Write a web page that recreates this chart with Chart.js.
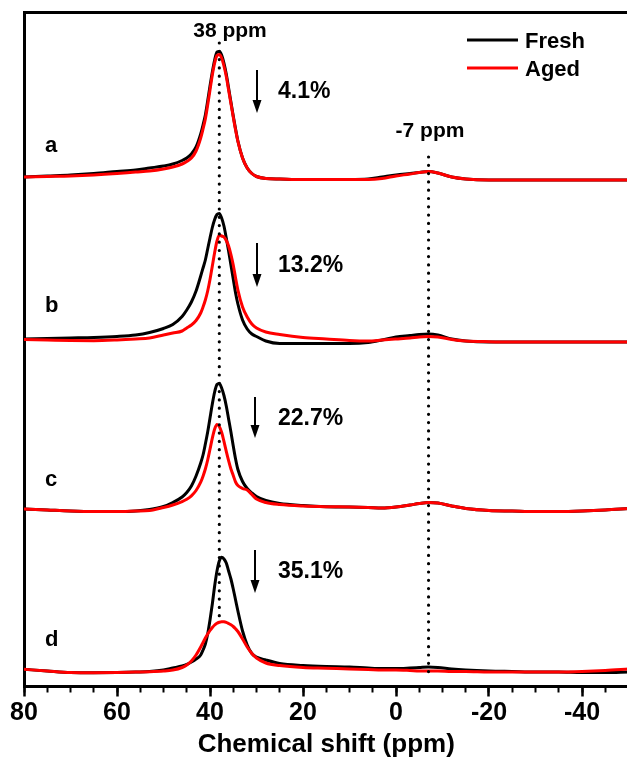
<!DOCTYPE html>
<html>
<head>
<meta charset="utf-8">
<script src="https://cdn.jsdelivr.net/npm/chart.js@4.4.1/dist/chart.umd.min.js"></script>
<style>
    html, body { margin: 0; padding: 0; background: #fff; overflow: hidden; }
    canvas { display: block; }
</style>
</head>
<body>
<canvas id="nmr" width="640" height="758"></canvas>
<script>
// chemical shift grid (ppm), shared by every trace
const PPM = [80, 75, 70, 65, 60, 56, 53, 50, 48, 46, 45, 44, 43, 42,
    41.5, 41, 40.5, 40, 39.5, 39, 38.5, 38, 37.5, 37, 36.5, 36, 35.5, 35, 34.5, 34,
    33, 32, 31, 30, 28, 25, 20, 15, 10, 6, 3, 0,
    -3, -5, -7, -9, -12, -15, -20, -25, -30, -35, -40, -45, -50];

// intensities (a.u.) above each trace's own baseline
const FRESH_A = [3, 4, 5, 6.5, 8.5, 10, 12, 14, 16, 19.5, 22, 26, 33, 46,
    55, 65, 79, 94, 108, 120, 128, 128.5, 125, 117, 106, 92, 78, 64, 51, 39,
    22, 12, 6.5, 3.5, 1.5, 1, 0.5, 0.5, 0.5, 1, 3, 5,
    6.5, 7.5, 8.5, 7, 3, 1, 0, 0, 0, 0, 0, 0, 0];
const AGED_A = [3, 3.5, 4, 5, 6.5, 8, 9, 11, 13, 16, 18.5, 22, 29, 42,
    51, 61, 75, 90, 105, 117, 124.5, 125.5, 122, 114, 103.5, 90, 76.5, 63, 50, 38.5,
    22, 12, 6.5, 3.5, 1.5, 1, 0.5, 0.5, 0.5, 0.5, 1.5, 4,
    6, 7.5, 8.5, 7, 3, 1, 0, 0, 0, 0, 0, 0, 0];

const FRESH_B = [3, 3.5, 4, 4.5, 5.5, 7, 9.5, 13.5, 17.5, 25.5, 32, 40, 51, 66,
    74, 82, 93, 104, 114.5, 122.5, 127.5, 128.5, 124, 116, 104, 91, 77, 63, 49, 38,
    22, 13, 8, 5.5, 1, -1.5, -1.5, -1.5, -1.5, -0.5, 2, 5,
    6.5, 7.5, 8, 7, 3, 1, 0, 0, 0, 0, 0, 0, 0];
const AGED_B = [2.5, 2, 1.5, 1.3, 2, 3, 4, 7, 9, 11, 14, 17, 21.5, 29,
    35, 42, 51, 62.5, 76, 89.5, 101, 107, 106, 105, 101.5, 96, 87.5, 77, 64, 52,
    35, 25, 18, 14, 10, 7.5, 4.5, 3, 1.5, 1, 2, 3,
    4, 5, 5.5, 5, 2.5, 1, 0.3, 0, 0, 0, 0, 0, 0];

const FRESH_C = [1, 0, -1, -1.5, -1.5, -1, 0.5, 3.5, 7.5, 13, 17.5, 24, 34, 47,
    55, 66, 78, 92, 106, 118, 125.5, 126.5, 122, 114.5, 104, 91, 78, 64, 51, 40.5,
    28.5, 21.5, 17, 13.5, 9.5, 6.5, 4.5, 3.3, 3, 2.5, 2, 3,
    5, 6.5, 7.5, 7, 4, 1.5, -0.5, -1, -1.5, -1.5, -1, 0, 1.5];
const AGED_C = [1, 0, -1, -1.5, -1.5, -1, -0.5, 2.5, 5, 8.4, 10.7, 14.2, 19.5, 27.8,
    33.8, 41, 50, 60.8, 71.8, 81, 85.5, 83.6, 77.7, 68.6, 58.7, 49.4, 41, 34.6, 28, 24.5,
    21.5, 20, 15.5, 11, 7.5, 5.5, 4, 3.3, 3, 2.5, 2, 3,
    5, 6.5, 7.5, 7, 4, 1.5, -0.5, -1, -1.5, -1.5, -1, 0, 1.5];

const FRESH_D = [0.7, -1, -2.5, -2.7, -2.5, -2, -1.5, 0, 2, 4, 5.5, 8, 11, 15,
    20, 26, 36, 50, 66, 84, 99, 109, 112.7, 111, 107, 99, 91, 81, 70, 59,
    39, 25, 16.5, 13, 10, 6.5, 4.5, 3.5, 3, 2, 1.5, 1.5,
    2, 2.5, 3, 2.5, 1, 0, -1, -1.5, -2, -2, -2.5, -2.5, -2];
const AGED_D = [0.7, -1, -2.5, -2.7, -2.5, -2, -1.7, -1, 0, 2.5, 5, 9, 15, 23,
    27.5, 32, 36, 39.5, 42.5, 45, 46.8, 47.8, 48.3, 48.2, 47.6, 46.5, 45.2, 43.5, 41.2, 38.5,
    31, 23, 16.5, 12, 7, 4.5, 2.5, 1.8, 1, 0.5, 0, 0,
    -0.5, -1, -1, -1, -1.5, -1.5, -2, -2, -2, -2, -1.5, -0.5, 1];

const SAMPLES = ['a', 'b', 'c', 'd'];
const OFFSETS = [506.5, 344.5, 176.5, 16.5];      // vertical stacking of the spectra
const LOSS = ['4.1%', '13.2%', '22.7%', '35.1%'];
const SERIES = ['Fresh', 'Aged'];
const COLORS = ['#000000', '#ff0000'];
const X_TICKS = [80, 60, 40, 20, 0, -20, -40];
const MARKS = [38, -7];
const MARK_LABELS = ['38 ppm', '-7 ppm'];

const FONT = '"Liberation Sans", Arial, Helvetica, sans-serif';
const FRESH = [FRESH_A, FRESH_B, FRESH_C, FRESH_D];
const AGED = [AGED_A, AGED_B, AGED_C, AGED_D];

const toPoints = (vals, off) => vals.map((v, i) => ({ x: PPM[i], y: off + v }));

const datasets = [];
OFFSETS.forEach((off, k) => {
    datasets.push({ label: SERIES[0] + ' ' + SAMPLES[k], data: toPoints(FRESH[k], off), borderColor: COLORS[0], order: 1 });
    datasets.push({ label: SERIES[1] + ' ' + SAMPLES[k], data: toPoints(AGED[k], off), borderColor: COLORS[1], order: 0 });
});

/* texts, arrows, dotted markers and legend */
const annotations = {
    id: 'annotations',
    afterDatasetsDraw(chart) {
        const { ctx, scales: { x } } = chart;
        ctx.save();
        ctx.fillStyle = '#000';
        ctx.strokeStyle = '#000';

        // dotted lines at 38 and -7 ppm
        const spans = [[43, 622], [157, 673]];
        ctx.lineWidth = 3.2;
        ctx.lineCap = 'round';
        ctx.setLineDash([0, 8.3]);
        MARKS.forEach((ppm, i) => {
            const px = x.getPixelForValue(ppm);
            ctx.beginPath();
            ctx.moveTo(px, spans[i][0]);
            ctx.lineTo(px, spans[i][1]);
            ctx.stroke();
        });
        ctx.setLineDash([]);
        ctx.lineCap = 'butt';

        ctx.font = 'bold 21px ' + FONT;
        ctx.textAlign = 'center';
        ctx.textBaseline = 'alphabetic';
        ctx.fillText(MARK_LABELS[0], 230, 37);
        ctx.fillText(MARK_LABELS[1], 430, 137);

        // sample letters
        const letterY = [152, 312, 486, 646];
        ctx.font = 'bold 22px ' + FONT;
        ctx.textAlign = 'left';
        SAMPLES.forEach((s, i) => ctx.fillText(s, 45, letterY[i]));

        // arrows + loss percentage
        const arrows = [[257, 70, 113], [257, 243, 287], [255, 397, 438], [255, 550, 593]];
        const lossY = [98, 272, 425, 578];
        arrows.forEach(([ax, y1, y2]) => {
            ctx.lineWidth = 2;
            ctx.beginPath();
            ctx.moveTo(ax, y1);
            ctx.lineTo(ax, y2 - 10);
            ctx.stroke();
            ctx.beginPath();
            ctx.moveTo(ax - 4.5, y2 - 13);
            ctx.lineTo(ax + 4.5, y2 - 13);
            ctx.lineTo(ax, y2);
            ctx.closePath();
            ctx.fill();
        });
        ctx.font = 'bold 23px ' + FONT;
        LOSS.forEach((t, i) => ctx.fillText(t, 278, lossY[i]));

        // legend
        ctx.font = 'bold 22px ' + FONT;
        SERIES.forEach((name, i) => {
            const ly = 40 + i * 28;
            ctx.strokeStyle = COLORS[i];
            ctx.lineWidth = 3;
            ctx.beginPath();
            ctx.moveTo(467, ly);
            ctx.lineTo(518, ly);
            ctx.stroke();
            ctx.fillStyle = '#000';
            ctx.fillText(name, 525, ly + 8);
        });
        ctx.restore();
    }
};

document.addEventListener('DOMContentLoaded', () => {
    new Chart(document.getElementById('nmr'), {
        type: 'line',
        data: { datasets },
        options: {
            responsive: false,
            animation: false,
            devicePixelRatio: 1,
            layout: { padding: { top: 12.5, right: 11.5, left: 0, bottom: 0 } },
            elements: {
                point: { radius: 0 },
                line: { borderWidth: 3, cubicInterpolationMode: 'monotone', borderJoinStyle: 'round', fill: false }
            },
            plugins: { legend: { display: false }, tooltip: { enabled: false } },
            scales: {
                xMinor: {
                    type: 'linear', position: 'bottom', reverse: true, min: -50, max: 80, weight: -1,
                    afterBuildTicks: s => {
                        const t = [];
                        for (let v = 80; v >= -50; v -= 5) t.push({ value: v });
                        s.ticks = t;
                    },
                    afterFit: s => { s.height = 0; },
                    grid: { drawOnChartArea: false, drawTicks: true, tickLength: 6, tickWidth: 2, tickColor: '#000' },
                    border: { display: false },
                    ticks: { display: false }
                },
                x: {
                    type: 'linear', position: 'bottom', reverse: true, min: -50, max: 80, weight: 0,
                    afterBuildTicks: s => { s.ticks = X_TICKS.map(v => ({ value: v })); },
                    afterFit: s => { s.height = 71.5; },
                    grid: { drawOnChartArea: false, drawTicks: true, tickLength: 10, tickWidth: 2.5, tickColor: '#000' },
                    border: { display: true, width: 3, color: '#000' },
                    ticks: {
                        color: '#000', padding: 2, maxRotation: 0, autoSkip: false,
                        font: { family: FONT, size: 25, weight: 'bold' }
                    },
                    title: {
                        display: true, text: 'Chemical shift (ppm)', color: '#000',
                        padding: { top: 0, bottom: 0.5 },
                        font: { family: FONT, size: 26, weight: 'bold', lineHeight: 1 }
                    }
                },
                xTop: {
                    type: 'linear', position: 'top', reverse: true, min: -50, max: 80,
                    afterFit: s => { s.height = 0; },
                    grid: { drawOnChartArea: false, drawTicks: false },
                    border: { display: true, width: 3, color: '#000' },
                    ticks: { display: false }
                },
                y: {
                    type: 'linear', position: 'left', min: 0, max: 674,
                    afterFit: s => { s.width = 24; },
                    grid: { drawOnChartArea: false, drawTicks: false },
                    border: { display: true, width: 3, color: '#000' },
                    ticks: { display: false }
                }
            }
        },
        plugins: [annotations]
    });
});
</script>
</body>
</html>
